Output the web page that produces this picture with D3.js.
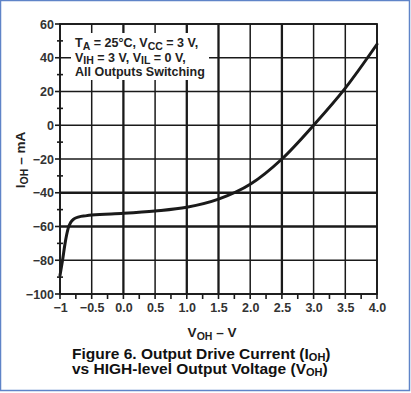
<!DOCTYPE html>
<html>
<head>
<meta charset="utf-8">
<script src="https://cdn.jsdelivr.net/npm/d3@7"></script>
<style>
  body { margin: 0; background: #fff; }
  svg { display: block; font-family: Arial, "Liberation Sans", sans-serif; font-weight: bold; }
</style>
</head>
<body>
<svg id="chart" width="411" height="393"></svg>
<script>
// curve: V_OH (V) vs I_OH (mA)
var voh = [-1.0, -0.96, -0.92, -0.87, -0.83, -0.78, -0.7, -0.6, -0.5, 0.0, 0.5, 1.0, 1.5, 2.0, 2.5, 3.0, 3.5, 4.0];
var ioh = [-89, -80, -70, -61, -57.5, -55.5, -54.3, -53.7, -53.2, -52.2, -50.8, -48.6, -43.8, -35, -20, 0, 22, 48];

var xTicks = [-1, -0.5, 0, 0.5, 1.0, 1.5, 2.0, 2.5, 3.0, 3.5, 4.0];
var xTickLabels = ["\u22121", "\u22120.5", "0.0", "0.5", "1.0", "1.5", "2.0", "2.5", "3.0", "3.5", "4.0"];
var yTicks = [-100, -80, -60, -40, -20, 0, 20, 40, 60];
var thickX = [0, 1.0, 1.5, 2.5];   // grid lines that look heavier in the scan
var thickY = [-40, -60];

var svg = d3.select("#chart");
var mLeft = 60, mRight = 377, mTop = 24, mBottom = 294;

var x = d3.scaleLinear().domain([-1, 4]).range([mLeft, mRight]);
var y = d3.scaleLinear().domain([-100, 60]).range([mBottom, mTop]);

// blue frame
svg.append("rect").attr("x", 0.5).attr("y", 0.5).attr("width", 409).attr("height", 390)
    .attr("fill", "#fff").attr("stroke", "#5f84c8").attr("stroke-width", 1.5);

var g = svg.append("g");

// grid
xTicks.forEach(function(t){
    g.append("line").attr("x1", x(t)).attr("x2", x(t)).attr("y1", mTop).attr("y2", mBottom)
        .attr("stroke", "#1a1a1a").attr("stroke-width", thickX.indexOf(t) >= 0 ? 2.3 : 1.5);
});
yTicks.forEach(function(t){
    g.append("line").attr("x1", mLeft).attr("x2", mRight).attr("y1", y(t)).attr("y2", y(t))
        .attr("stroke", "#1a1a1a").attr("stroke-width", thickY.indexOf(t) >= 0 ? 2.3 : 1.5);
});

// minor / major ticks
d3.range(-1, 4.001, 0.25).forEach(function(t){
    g.append("line").attr("x1", x(t)).attr("x2", x(t)).attr("y1", mBottom).attr("y2", mBottom + 5)
        .attr("stroke", "#1a1a1a").attr("stroke-width", 1.6);
});
d3.range(-100, 60.001, 10).forEach(function(t){
    var major = t % 20 === 0;
    g.append("line").attr("x1", mLeft - (major ? 5 : 3)).attr("x2", mLeft + (major ? 0 : 3))
        .attr("y1", y(t)).attr("y2", y(t))
        .attr("stroke", "#1a1a1a").attr("stroke-width", 1.6);
});

// frame of plot
g.append("rect").attr("x", mLeft).attr("y", mTop).attr("width", mRight - mLeft).attr("height", mBottom - mTop)
    .attr("fill", "none").attr("stroke", "#1a1a1a").attr("stroke-width", 1.8);

// tick labels
var xAxis = d3.axisBottom(x).tickValues(xTicks).tickSize(0).tickPadding(9)
    .tickFormat(function(d, i){ return xTickLabels[i]; });
svg.append("g").attr("transform", "translate(0," + mBottom + ")").call(xAxis)
    .call(function(s){ s.select(".domain").remove(); })
    .selectAll("text").attr("font-size", 12.5).attr("font-weight", "bold").attr("fill", "#333")
    .attr("font-family", "Arial, 'Liberation Sans', sans-serif");

var yAxis = d3.axisLeft(y).tickValues(yTicks).tickSize(0).tickPadding(6)
    .tickFormat(function(d){ return d < 0 ? "\u2212" + Math.abs(d) : d; });
svg.append("g").attr("transform", "translate(" + mLeft + ",0)").call(yAxis)
    .call(function(s){ s.select(".domain").remove(); })
    .selectAll("text").attr("font-size", 12.5).attr("font-weight", "bold").attr("fill", "#333")
    .attr("font-family", "Arial, 'Liberation Sans', sans-serif");

// annotation box
svg.append("rect").attr("x", 71).attr("y", 33).attr("width", 138).attr("height", 47).attr("fill", "#fff");
var ann = svg.append("text").attr("font-size", 12.5).attr("fill", "#222");
var l1 = ann.append("tspan").attr("x", 75).attr("y", 47);
l1.append("tspan").text("T");
l1.append("tspan").attr("font-size", 10.5).attr("dy", 2.5).text("A");
l1.append("tspan").attr("dy", -2.5).text(" = 25\u00B0C, V");
l1.append("tspan").attr("font-size", 10.5).attr("dy", 2.5).text("CC");
l1.append("tspan").attr("dy", -2.5).text(" = 3 V,");
var l2 = ann.append("tspan").attr("x", 75).attr("y", 61.5);
l2.append("tspan").text("V");
l2.append("tspan").attr("font-size", 10.5).attr("dy", 2.5).text("IH");
l2.append("tspan").attr("dy", -2.5).text(" = 3 V, V");
l2.append("tspan").attr("font-size", 10.5).attr("dy", 2.5).text("IL");
l2.append("tspan").attr("dy", -2.5).text(" = 0 V,");
ann.append("tspan").attr("x", 75).attr("y", 76).text("All Outputs Switching");

// curve
var line = d3.line().x(function(d){ return x(d[0]); }).y(function(d){ return y(d[1]); })
    .curve(d3.curveMonotoneX);
svg.append("path").datum(d3.zip(voh, ioh)).attr("d", line)
    .attr("fill", "none").attr("stroke", "#1a1a1a").attr("stroke-width", 3)
    .attr("stroke-linecap", "round").attr("stroke-linejoin", "round");

// axis titles
var xt = svg.append("text").attr("x", 212).attr("y", 337).attr("text-anchor", "middle")
    .attr("font-size", 13.5).attr("fill", "#222");
xt.append("tspan").text("V");
xt.append("tspan").attr("font-size", 10.5).attr("dy", 3).text("OH");
xt.append("tspan").attr("dy", -3).text(" \u2013 V");

var yt = svg.append("text").attr("transform", "translate(25,160) rotate(-90)").attr("text-anchor", "middle")
    .attr("font-size", 13.5).attr("fill", "#222");
yt.append("tspan").text("I");
yt.append("tspan").attr("font-size", 10.5).attr("dy", 3).text("OH");
yt.append("tspan").attr("dy", -3).text(" \u2013 mA");

// caption
var cap = svg.append("text").attr("font-size", 15.5).attr("fill", "#111");
var c1 = cap.append("tspan").attr("x", 72).attr("y", 359);
c1.append("tspan").text("Figure 6. Output Drive Current (I");
c1.append("tspan").attr("font-size", 11).attr("dy", 2).text("OH");
c1.append("tspan").attr("dy", -2).text(")");
var c2 = cap.append("tspan").attr("x", 72).attr("y", 374);
c2.append("tspan").text("vs HIGH-level Output Voltage (V");
c2.append("tspan").attr("font-size", 11).attr("dy", 2).text("OH");
c2.append("tspan").attr("dy", -2).text(")");
</script>
</body>
</html>
